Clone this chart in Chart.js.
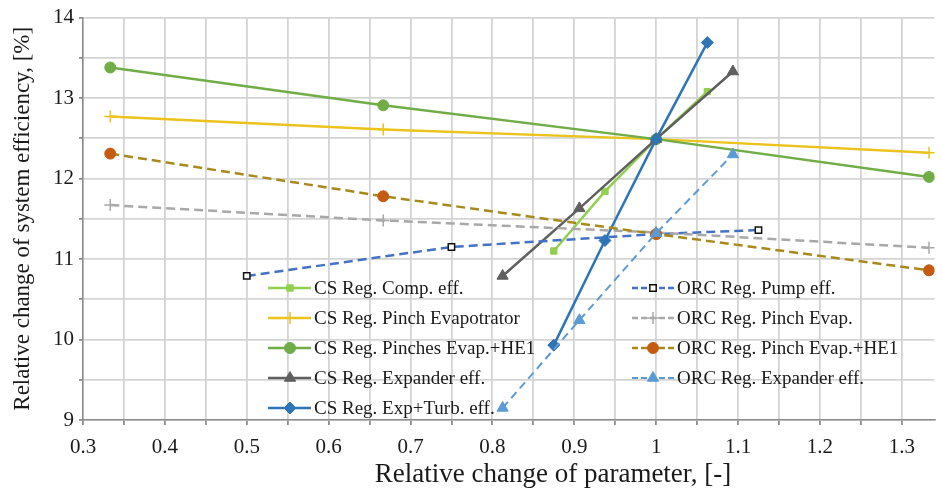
<!DOCTYPE html>
<html lang="en">
<head>
    <meta charset="UTF-8">
    <title>Relative change of system efficiency</title>
    <style>
        body {
            margin: 0;
            background: #ffffff;
        }
        .chart-box {
            position: relative;
            width: 942px;
            height: 489px;
        }
    </style>
    <script src="https://cdn.jsdelivr.net/npm/chart.js"></script>
</head>
<body>
<div class="chart-box">
    <canvas id="effChart"></canvas>
</div>

<script>
    // values
    const seriesNames = [
        'CS Reg. Comp. eff.',
        'CS Reg. Pinch Evapotrator',
        'CS Reg. Pinches Evap.+HE1',
        'CS Reg. Expander eff.',
        'CS Reg. Exp+Turb. eff.',
        'ORC Reg. Pump eff.',
        'ORC Reg. Pinch Evap.',
        'ORC Reg. Pinch Evap.+HE1',
        'ORC Reg. Expander eff.'
    ];

    const csCompX = [0.875, 0.9375, 1, 1.0625];
    const csCompY = [11.10, 11.84, 12.49, 13.08];

    const csPinchEvapX = [0.3333, 0.6667, 1, 1.3333];
    const csPinchEvapY = [12.77, 12.61, 12.49, 12.32];

    const csPinchesHe1X = [0.3333, 0.6667, 1, 1.3333];
    const csPinchesHe1Y = [13.38, 12.91, 12.49, 12.02];

    const csExpanderX = [0.8125, 0.90625, 1, 1.09375];
    const csExpanderY = [10.79, 11.63, 12.49, 13.33];

    const csExpTurbX = [0.875, 0.9375, 1, 1.0625];
    const csExpTurbY = [9.93, 11.23, 12.49, 13.69];

    const orcPumpX = [0.5, 0.75, 1, 1.125];
    const orcPumpY = [10.79, 11.15, 11.31, 11.36];

    const orcPinchEvapX = [0.3333, 0.6667, 1, 1.3333];
    const orcPinchEvapY = [11.67, 11.48, 11.33, 11.14];

    const orcPinchHe1X = [0.3333, 0.6667, 1, 1.3333];
    const orcPinchHe1Y = [12.31, 11.78, 11.31, 10.86];

    const orcExpanderX = [0.8125, 0.90625, 1, 1.09375];
    const orcExpanderY = [9.15, 10.24, 11.32, 12.30];

    const xTickLabels = ['0.3', '0.4', '0.5', '0.6', '0.7', '0.8', '0.9', '1', '1.1', '1.2', '1.3'];
    const yTickLabels = ['9', '10', '11', '12', '13', '14'];

    const xTitle = 'Relative change of parameter, [-]';
    const yTitle = 'Relative change of system efficiency, [%]';

    const FONT = "'Liberation Serif', 'Times New Roman', serif";
    const TEXT = '#1a1a1a';

    function pts(xs, ys) {
        return xs.map((x, i) => ({x: x, y: ys[i]}));
    }

    function tickText(list, value) {
        const hit = list.find(t => Math.abs(parseFloat(t) - value) < 1e-6);
        return hit === undefined ? '' : hit;
    }

    const datasets = [
        {data: pts(csCompX, csCompY), borderColor: '#92D050', backgroundColor: '#92D050',
            pointStyle: 'rect', pointRadius: 4.5, borderWidth: 2.5},
        {data: pts(csPinchEvapX, csPinchEvapY), borderColor: '#EBC31C', backgroundColor: '#EBC31C',
            pointStyle: 'cross', pointRadius: 6, pointBorderWidth: 1.5, borderWidth: 2.5},
        {data: pts(csPinchesHe1X, csPinchesHe1Y), borderColor: '#70AD47', backgroundColor: '#70AD47',
            pointStyle: 'circle', pointRadius: 5.5, borderWidth: 2.5},
        {data: pts(csExpanderX, csExpanderY), borderColor: '#5F5F5F', backgroundColor: '#5F5F5F',
            pointStyle: 'triangle', pointRadius: 6.5, borderWidth: 2.5},
        {data: pts(csExpTurbX, csExpTurbY), borderColor: '#2E75B6', backgroundColor: '#2E75B6',
            pointStyle: 'rectRot', pointRadius: 6, borderWidth: 2.5},
        {data: pts(orcPumpX, orcPumpY), borderColor: '#4472C4', backgroundColor: '#ffffff',
            pointBorderColor: '#111111', pointBorderWidth: 1.5,
            pointStyle: 'rect', pointRadius: 4.5, borderWidth: 2.5, borderDash: [9, 5]},
        {data: pts(orcPinchEvapX, orcPinchEvapY), borderColor: '#A8A8A8', backgroundColor: '#A8A8A8',
            pointStyle: 'cross', pointRadius: 6, pointBorderWidth: 1.5, borderWidth: 2.5, borderDash: [9, 5]},
        {data: pts(orcPinchHe1X, orcPinchHe1Y), borderColor: '#A88A1C', backgroundColor: '#C55A11',
            pointBorderColor: '#C55A11',
            pointStyle: 'circle', pointRadius: 5.5, borderWidth: 2.5, borderDash: [9, 5]},
        {data: pts(orcExpanderX, orcExpanderY), borderColor: '#5B9BD5', backgroundColor: '#5B9BD5',
            pointStyle: 'triangle', pointRadius: 6.5, borderWidth: 2, borderDash: [8, 5]}
    ].map((ds, i) => Object.assign({
        label: seriesNames[i],
        showLine: true,
        fill: false,
        tension: 0,
        pointBorderColor: ds.borderColor,
        pointBorderWidth: 1,
        pointHoverRadius: ds.pointRadius,
        order: 9 - i
    }, ds));

    // legend drawn inside the plot, two columns like the original figure,
    // plus the x axis title (it sits right of the plot centre in the original)
    const insideLegend = {
        id: 'insideLegend',
        afterDatasetsDraw(chart) {
            const ctx = chart.ctx;
            const cols = [
                {lineFrom: 268, lineTo: 311, mark: 290, text: 314},
                {lineFrom: 632, lineTo: 674, mark: 653, text: 677}
            ];
            const rows = [288, 318, 348, 378, 408];
            chart.data.datasets.forEach((ds, i) => {
                const col = i < 5 ? cols[0] : cols[1];
                const y = i < 5 ? rows[i] : rows[i - 5];
                ctx.save();
                ctx.strokeStyle = ds.borderColor;
                ctx.lineWidth = ds.borderWidth;
                ctx.setLineDash(ds.borderDash ? [6, 3] : []);
                ctx.beginPath();
                ctx.moveTo(col.lineFrom, y);
                ctx.lineTo(col.lineTo, y);
                ctx.stroke();
                ctx.setLineDash([]);
                ctx.fillStyle = ds.backgroundColor;
                ctx.strokeStyle = ds.pointBorderColor;
                ctx.lineWidth = ds.pointBorderWidth;
                if (Chart.helpers && Chart.helpers.drawPoint) {
                    Chart.helpers.drawPoint(ctx, {
                        pointStyle: ds.pointStyle,
                        radius: ds.pointRadius,
                        borderWidth: ds.pointBorderWidth,
                        rotation: 0
                    }, col.mark, y);
                }
                ctx.fillStyle = TEXT;
                ctx.font = '19px ' + FONT;
                ctx.textBaseline = 'middle';
                ctx.textAlign = 'left';
                ctx.fillText(ds.label, col.text, y + 1);
                ctx.restore();
            });

            ctx.save();
            ctx.fillStyle = TEXT;
            ctx.font = '27px ' + FONT;
            ctx.textAlign = 'center';
            ctx.textBaseline = 'middle';
            ctx.fillText(xTitle, 553, 475);
            ctx.restore();
        }
    };

    new Chart(document.getElementById('effChart'), {
        type: 'scatter',
        data: {datasets: datasets},
        options: {
            responsive: true,
            maintainAspectRatio: false,
            animation: false,
            layout: {padding: {top: 16, right: 0, bottom: 0, left: 0}},
            plugins: {
                legend: {display: false},
                tooltip: {enabled: false}
            },
            scales: {
                x: {
                    type: 'linear',
                    min: 0.3,
                    max: 1.34,
                    afterFit: scale => { scale.height = 69; },
                    grid: {color: '#d4d4d4', lineWidth: 1.8, tickLength: 5, tickColor: '#8c8c8c'},
                    border: {color: '#8c8c8c', width: 1.5},
                    ticks: {
                        stepSize: 0.05,
                        includeBounds: false,
                        autoSkip: false,
                        maxRotation: 0,
                        padding: 10,
                        color: TEXT,
                        font: {family: FONT, size: 21},
                        callback: v => tickText(xTickLabels, v)
                    }
                },
                y: {
                    type: 'linear',
                    min: 9,
                    max: 14,
                    afterFit: scale => { scale.width = 83; },
                    grid: {color: '#d4d4d4', lineWidth: 1.8, tickLength: 4, tickColor: '#8c8c8c'},
                    border: {color: '#8c8c8c', width: 1.5},
                    ticks: {
                        stepSize: 0.5,
                        padding: 5,
                        color: TEXT,
                        font: {family: FONT, size: 21},
                        callback: v => tickText(yTickLabels, v)
                    },
                    title: {
                        display: true,
                        text: yTitle,
                        color: TEXT,
                        font: {family: FONT, size: 23},
                        padding: {top: 9, bottom: 0}
                    }
                }
            }
        },
        plugins: [insideLegend]
    });
</script>
</body>
</html>
